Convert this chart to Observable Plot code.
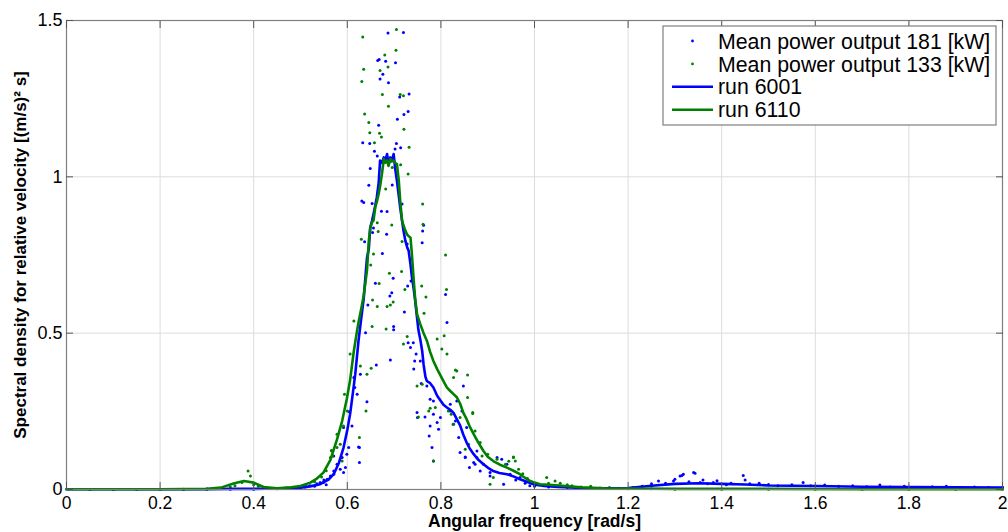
<!DOCTYPE html>
<html>
<head>
<meta charset="utf-8">
<script src="https://cdn.jsdelivr.net/npm/d3@7"></script>
<script src="https://cdn.jsdelivr.net/npm/@observablehq/plot@0.6"></script>
<style>
  body { margin: 0; background: #fff; }
  #chart svg { display: block; }
</style>
</head>
<body>
<div id="chart"></div>
<script>
// Spectral density of relative velocity, two runs: raw periodogram points and smoothed spectra.
const xTicks = [0, 0.2, 0.4, 0.6, 0.8, 1, 1.2, 1.4, 1.6, 1.8, 2];
const yTicks = [0, 0.5, 1, 1.5];

const seriesNames = ["Mean power output 181 [kW]", "Mean power output 133 [kW]", "run 6001", "run 6110"];
const xLabel = "Angular frequency [rad/s]";
const yLabel = "Spectral density for relative velocity [(m/s)\u00B2 s]";

// raw spectrum points, 181 kW  [frequency, density]
const dots181 = [
  [0.05,0.000],[0.10,0.000],[0.15,0.000],[0.20,0.000],[0.25,0.000],[0.30,0.001],[0.35,0.001],[0.40,0.001],
  [0.45,0.002],[0.47,0.003],[0.49,0.004],[0.50,0.005],[0.51,0.008],[0.52,0.012],[0.53,0.010],[0.535,0.018],
  [0.542,0.022],[0.549,0.022],[0.55,0.030],[0.555,0.015],[0.557,0.033],[0.564,0.043],[0.571,0.059],[0.571,0.049],
  [0.571,0.107],[0.578,0.081],[0.585,0.065],[0.589,0.102],[0.592,0.054],[0.592,0.198],[0.596,0.070],[0.599,0.113],
  [0.603,0.134],[0.604,0.249],[0.610,0.203],[0.614,0.358],[0.616,0.326],[0.621,0.305],[0.624,0.136],[0.626,0.134],
  [0.626,0.086],[0.628,0.369],[0.631,0.923],[0.633,1.109],[0.635,0.918],[0.637,0.792],[0.639,0.501],[0.642,0.281],
  [0.644,0.590],[0.646,0.973],[0.648,1.107],[0.649,1.027],[0.653,0.915],[0.654,0.822],[0.656,0.836],[0.658,1.082],
  [0.660,0.660],[0.662,0.398],[0.664,1.067],[0.665,1.372],[0.667,1.165],[0.668,1.375],[0.670,1.313],[0.673,0.890],
  [0.675,0.755],[0.676,1.328],[0.682,1.370],[0.684,0.816],[0.685,0.889],[0.687,1.460],[0.688,1.301],[0.691,0.619],
  [0.692,0.414],[0.695,0.629],[0.696,0.974],[0.698,0.676],[0.699,0.521],[0.699,0.511],[0.702,1.089],[0.703,1.365],
  [0.705,1.107],[0.707,1.184],[0.712,1.255],[0.714,1.093],[0.717,0.913],[0.720,1.462],[0.721,1.199],[0.722,0.568],
  [0.728,0.785],[0.729,0.651],[0.730,1.209],[0.730,0.469],[0.732,1.265],[0.735,0.454],[0.736,0.667],[0.741,0.469],
  [0.742,0.385],[0.744,0.411],[0.747,0.433],[0.749,0.246],[0.750,0.230],[0.756,0.411],[0.758,0.339],[0.760,0.789],
  [0.761,0.827],[0.763,0.845],[0.766,0.232],[0.770,0.331],[0.775,0.171],[0.777,0.289],[0.777,0.203],[0.781,0.134],
  [0.784,0.283],[0.784,0.241],[0.784,0.091],[0.792,0.214],[0.795,0.193],[0.799,0.230],[0.810,0.624],[0.813,0.534],
  [0.820,0.251],[0.820,0.273],[0.827,0.209],[0.831,0.219],[0.834,0.283],[0.838,0.166],[0.841,0.118],[0.845,0.251],
  [0.848,0.331],[0.852,0.104],[0.852,0.102],[0.855,0.198],[0.861,0.070],[0.870,0.086],[0.873,0.081],[0.877,0.123],
  [0.884,0.059],[0.891,0.081],[0.905,0.054],[0.905,0.043],[0.920,0.102],[0.930,0.097],[0.934,0.017],[0.941,0.081],
  [0.948,0.049],[0.960,0.030],[0.969,0.038],[0.980,0.020],[0.990,0.012],[1.000,0.010],[1.010,0.015],[1.030,0.008],
  [1.050,0.010],[1.070,0.006],[1.090,0.005],[1.120,0.004],[1.150,0.003],[1.180,0.004],[1.210,0.006],[1.230,0.010],
  [1.250,0.018],[1.265,0.027],[1.280,0.020],[1.297,0.027],[1.300,0.033],[1.311,0.043],[1.315,0.045],[1.318,0.049],
  [1.330,0.025],[1.340,0.054],[1.343,0.052],[1.354,0.022],[1.360,0.030],[1.370,0.018],[1.382,0.022],[1.390,0.028],
  [1.410,0.015],[1.420,0.020],[1.446,0.045],[1.450,0.030],[1.460,0.018],[1.480,0.020],[1.500,0.016],[1.520,0.012],
  [1.550,0.015],[1.574,0.022],[1.590,0.012],[1.620,0.014],[1.650,0.010],[1.680,0.012],[1.710,0.009],[1.738,0.014],
  [1.760,0.008],[1.790,0.010],[1.820,0.007],[1.850,0.009],[1.880,0.010],[1.910,0.006],[1.940,0.008],[1.970,0.006],
  [2.000,0.007]
];

// raw spectrum points, 133 kW  [frequency, density]
const dots133 = [
  [0.05,0.000],[0.10,0.000],[0.15,0.000],[0.20,0.000],[0.25,0.001],[0.30,0.002],[0.35,0.008],[0.36,0.012],
  [0.375,0.022],[0.388,0.059],[0.393,0.043],[0.40,0.015],[0.41,0.010],[0.42,0.005],[0.44,0.003],[0.47,0.005],
  [0.50,0.010],[0.51,0.012],[0.53,0.025],[0.545,0.040],[0.555,0.060],[0.564,0.102],[0.566,0.125],[0.567,0.123],
  [0.569,0.107],[0.578,0.134],[0.578,0.177],[0.585,0.145],[0.589,0.091],[0.592,0.203],[0.594,0.305],[0.600,0.251],
  [0.606,0.433],[0.614,0.539],[0.626,0.166],[0.628,0.395],[0.630,0.800],[0.631,1.305],[0.633,1.447],[0.635,1.344],
  [0.637,1.201],[0.640,0.251],[0.642,0.369],[0.646,1.174],[0.648,1.141],[0.650,0.718],[0.651,0.388],[0.653,0.521],
  [0.654,0.606],[0.656,0.753],[0.658,1.109],[0.664,0.853],[0.664,0.585],[0.666,0.825],[0.668,0.659],[0.669,1.139],
  [0.670,1.340],[0.673,1.127],[0.675,1.263],[0.680,1.390],[0.682,0.961],[0.683,0.513],[0.685,0.585],[0.687,1.351],
  [0.688,1.226],[0.690,0.692],[0.692,0.590],[0.695,0.846],[0.696,1.030],[0.698,0.600],[0.704,1.405],[0.705,1.471],
  [0.713,1.263],[0.714,1.039],[0.716,0.697],[0.717,0.793],[0.720,1.259],[0.720,0.465],[0.721,1.152],[0.723,0.640],
  [0.728,0.489],[0.730,1.009],[0.732,1.095],[0.749,0.331],[0.752,0.232],[0.759,0.651],[0.760,0.337],[0.761,0.913],
  [0.762,0.848],[0.764,0.564],[0.768,0.616],[0.774,0.251],[0.777,0.260],[0.784,0.091],[0.788,0.262],[0.792,0.481],
  [0.802,0.449],[0.807,0.492],[0.810,0.750],[0.812,0.640],[0.813,0.433],[0.816,0.251],[0.822,0.241],[0.826,0.209],
  [0.827,0.358],[0.831,0.382],[0.834,0.379],[0.841,0.230],[0.852,0.129],[0.857,0.366],[0.857,0.294],[0.859,0.145],
  [0.868,0.243],[0.868,0.246],[0.873,0.187],[0.877,0.102],[0.884,0.150],[0.888,0.107],[0.900,0.113],[0.905,0.017],
  [0.912,0.038],[0.920,0.097],[0.938,0.081],[0.945,0.090],[0.955,0.102],[0.955,0.104],[0.959,0.091],[0.966,0.065],
  [0.975,0.050],[0.985,0.035],[0.995,0.020],[1.005,0.015],[1.026,0.038],[1.030,0.020],[1.044,0.027],[1.055,0.020],
  [1.070,0.015],[1.080,0.012],[1.100,0.008],[1.120,0.010],[1.140,0.005],[1.160,0.006],[1.180,0.003],[1.200,0.002],
  [1.250,0.002],[1.300,0.001],[1.400,0.001],[1.500,0.001],[1.600,0.001],[1.700,0.001],[1.800,0.001],[1.900,0.001],
  [2.000,0.001]
];

// smoothed spectrum, run 6001  [frequency, density]
const run6001 = [
  [0,0.001],[0.1,0.001],[0.2,0.001],[0.3,0.001],[0.35,0.002],[0.4,0.002],[0.45,0.003],[0.5,0.006],[0.52,0.010],
  [0.542,0.017],[0.56,0.032],[0.571,0.049],[0.582,0.085],[0.592,0.134],[0.6,0.19],[0.606,0.241],[0.612,0.31],
  [0.617,0.369],[0.624,0.476],[0.63,0.55],[0.635,0.61],[0.642,0.74],[0.646,0.77],[0.649,0.838],[0.653,0.86],
  [0.656,0.881],[0.66,0.91],[0.663,0.934],[0.667,0.98],[0.670,1.052],[0.674,1.045],[0.678,1.062],[0.681,1.05],
  [0.685,1.073],[0.688,1.04],[0.692,1.062],[0.695,1.05],[0.699,1.073],[0.702,1.030],[0.706,0.988],[0.710,0.94],
  [0.713,0.902],[0.717,0.86],[0.720,0.828],[0.724,0.796],[0.728,0.774],[0.731,0.764],[0.735,0.72],[0.738,0.68],
  [0.742,0.64],[0.745,0.604],[0.749,0.55],[0.752,0.51],[0.756,0.48],[0.760,0.443],[0.763,0.40],[0.767,0.36],
  [0.770,0.347],[0.777,0.34],[0.784,0.326],[0.792,0.30],[0.799,0.285],[0.806,0.27],[0.813,0.262],[0.820,0.255],
  [0.827,0.245],[0.834,0.225],[0.841,0.205],[0.848,0.175],[0.855,0.15],[0.862,0.13],[0.870,0.113],[0.880,0.095],
  [0.891,0.081],[0.900,0.07],[0.912,0.059],[0.925,0.053],[0.941,0.049],[0.955,0.042],[0.969,0.033],[0.985,0.024],
  [1.0,0.016],[1.02,0.011],[1.05,0.008],[1.1,0.005],[1.15,0.004],[1.2,0.005],[1.25,0.012],[1.3,0.018],[1.35,0.02],
  [1.4,0.018],[1.45,0.016],[1.5,0.013],[1.6,0.011],[1.7,0.009],[1.8,0.008],[1.9,0.007],[2.0,0.006]
];

// smoothed spectrum, run 6110  [frequency, density]
const run6110 = [
  [0,0.001],[0.1,0.001],[0.2,0.001],[0.3,0.002],[0.33,0.006],[0.357,0.019],[0.379,0.027],[0.4,0.022],[0.421,0.008],
  [0.45,0.004],[0.48,0.007],[0.5,0.011],[0.521,0.022],[0.535,0.035],[0.549,0.054],[0.564,0.095],[0.578,0.160],
  [0.589,0.219],[0.599,0.29],[0.606,0.35],[0.614,0.443],[0.62,0.50],[0.624,0.535],[0.630,0.58],[0.635,0.62],
  [0.642,0.70],[0.646,0.796],[0.649,0.835],[0.653,0.855],[0.656,0.86],[0.660,0.905],[0.663,0.92],[0.667,0.945],
  [0.670,0.97],[0.674,1.009],[0.678,1.057],[0.681,1.045],[0.685,1.052],[0.688,1.035],[0.692,1.057],[0.695,1.05],
  [0.699,1.052],[0.702,1.045],[0.706,1.041],[0.710,0.988],[0.713,0.924],[0.717,0.860],[0.720,0.845],[0.724,0.828],
  [0.728,0.815],[0.731,0.81],[0.735,0.806],[0.738,0.753],[0.742,0.668],[0.745,0.61],[0.749,0.561],[0.756,0.529],
  [0.763,0.50],[0.770,0.476],[0.777,0.44],[0.784,0.411],[0.792,0.385],[0.799,0.365],[0.806,0.345],[0.813,0.326],
  [0.820,0.315],[0.827,0.305],[0.834,0.295],[0.841,0.275],[0.848,0.245],[0.855,0.225],[0.862,0.2],[0.870,0.177],
  [0.880,0.15],[0.891,0.123],[0.900,0.105],[0.912,0.091],[0.925,0.08],[0.941,0.070],[0.955,0.06],[0.969,0.049],
  [0.980,0.037],[0.991,0.027],[1.0,0.022],[1.012,0.017],[1.03,0.015],[1.06,0.012],[1.1,0.007],[1.15,0.004],
  [1.2,0.003],[1.3,0.002],[1.5,0.002],[1.7,0.001],[2.0,0.001]
];

const BLUE = "#0000ff";
const GREEN = "#008000";
const FONT = "'Liberation Sans', Arial, Helvetica, sans-serif";
const fx = d => d[0], fy = d => d[1];
const fmt = d3.format("~g");

const chart = Plot.plot({
  width: 1008,
  height: 532,
  marginLeft: 66,
  marginRight: 6,
  marginTop: 20,
  marginBottom: 43,
  style: { fontFamily: FONT, fontSize: "17px", color: "#000", background: "#fff", overflow: "visible" },
  x: { domain: [0, 2] },
  y: { domain: [0, 1.5] },
  marks: [
    Plot.gridX(xTicks, { stroke: "#dcdcdc", strokeOpacity: 1 }),
    Plot.gridY(yTicks, { stroke: "#dcdcdc", strokeOpacity: 1 }),
    Plot.dot(dots181, { x: fx, y: fy, r: 1.5, fill: BLUE, stroke: null }),
    Plot.dot(dots133, { x: fx, y: fy, r: 1.5, fill: GREEN, stroke: null }),
    Plot.line(run6001, { x: fx, y: fy, stroke: BLUE, strokeWidth: 2.6, curve: "linear" }),
    Plot.line(run6110, { x: fx, y: fy, stroke: GREEN, strokeWidth: 2.6, curve: "linear" }),
    Plot.frame({ stroke: "#7f7f7f", strokeWidth: 1.2 }),
    // inward ticks on all four sides, labels on bottom and left
    Plot.axisX(xTicks, { anchor: "bottom", tickSize: -7, tickPadding: 14, stroke: "#555", tickFormat: fmt, fontSize: 17.5, label: null }),
    Plot.axisX(xTicks, { anchor: "top", tickSize: -7, stroke: "#555", tickFormat: () => "", label: null }),
    Plot.axisY(yTicks, { anchor: "left", tickSize: -7, tickPadding: 11, stroke: "#555", tickFormat: fmt, fontSize: 18, label: null }),
    Plot.axisY(yTicks, { anchor: "right", tickSize: -7, stroke: "#555", tickFormat: () => "", label: null }),
    Plot.text([xLabel], { frameAnchor: "bottom", dy: 25, lineAnchor: "top", fontWeight: "bold", fontSize: 17.5, fill: "#000" }),
    Plot.text([yLabel], { frameAnchor: "left", textAnchor: "middle", rotate: -90, dx: -46, fontWeight: "bold", fontSize: 17, fill: "#000" })
  ]
});

document.getElementById("chart").appendChild(chart);

// legend box in the upper right of the plotting area
const svg = d3.select(chart);
const lg = svg.append("g").attr("transform", "translate(663,26)")
  .style("font-family", FONT).attr("text-anchor", "start");
lg.append("rect").attr("width", 333).attr("height", 99).attr("fill", "#fff").attr("stroke", "#7f7f7f").attr("stroke-width", 1.2);
const swatch = [
  { kind: "dot", color: BLUE },
  { kind: "dot", color: GREEN },
  { kind: "line", color: BLUE },
  { kind: "line", color: GREEN }
];
seriesNames.forEach((name, i) => {
  const cy = 15 + i * 22.9;
  if (swatch[i].kind === "dot") {
    lg.append("circle").attr("cx", 29.5).attr("cy", cy).attr("r", 1.4).attr("fill", swatch[i].color);
  } else {
    lg.append("line").attr("x1", 9).attr("x2", 50).attr("y1", cy).attr("y2", cy)
      .attr("stroke", swatch[i].color).attr("stroke-width", 2.4);
  }
  lg.append("text").attr("x", 55).attr("y", cy).attr("dy", "0.36em").attr("text-anchor", "start")
    .attr("font-size", 21.3).attr("fill", "#000").text(name);
});
</script>
</body>
</html>
